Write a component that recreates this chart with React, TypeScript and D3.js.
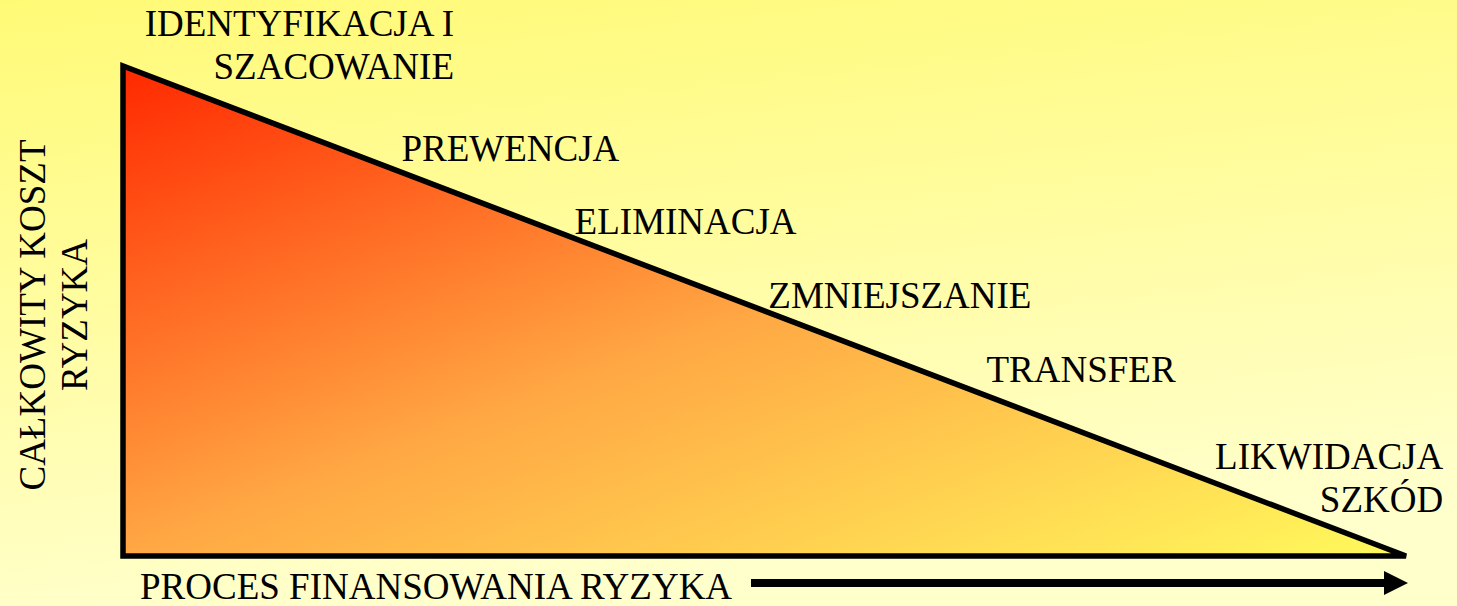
import React, { useEffect, useRef } from "react";
import * as d3 from "d3";

// stages of the risk financing process, in order
const stageLabels = [
    ["IDENTYFIKACJA I", "SZACOWANIE"],
    ["PREWENCJA"],
    ["ELIMINACJA"],
    ["ZMNIEJSZANIE"],
    ["TRANSFER"],
    ["LIKWIDACJA", "SZKÓD"],
];
// where each label sits: process progress (%) and remaining total cost (%)
const stageProcess = [25.8, 21.7, 35.2, 50.3, 67.3, 102.9];
const stageCost = [106.1, 80.6, 65.7, 50.6, 35.5, 17.8];

// the cost curve: total cost falls as the process goes on
const curveProcess = [0, 0, 100];
const curveCost = [0, 100, 0];

const xTitle = "PROCES FINANSOWANIA RYZYKA";
const yTitle = ["CAŁKOWITY KOSZT", "RYZYKA"];

const App = () => {
    const chartRef = useRef(null);

    useEffect(() => {
        const width = 1457, height = 606;
        const svg = d3.select(chartRef.current)
            .attr("width", width)
            .attr("height", height);

        svg.selectAll("*").remove();

        const x = d3.scaleLinear().domain([0, 100]).range([123, 1406]);
        const y = d3.scaleLinear().domain([0, 100]).range([556, 66]);

        const defs = svg.append("defs");
        const bg = defs.append("linearGradient")
            .attr("id", "bg")
            .attr("x1", 0).attr("y1", 0).attr("x2", 0.25).attr("y2", 1);
        bg.append("stop").attr("offset", 0).attr("stop-color", "#fffa76");
        bg.append("stop").attr("offset", 1).attr("stop-color", "#ffffcc");

        const fill = defs.append("linearGradient")
            .attr("id", "tri")
            .attr("x1", 0).attr("y1", 0).attr("x2", 1).attr("y2", 1);
        fill.append("stop").attr("offset", 0).attr("stop-color", "#ff2800");
        fill.append("stop").attr("offset", 0.5).attr("stop-color", "#ffa844");
        fill.append("stop").attr("offset", 1).attr("stop-color", "#fffa5c");

        svg.append("rect")
            .attr("width", width)
            .attr("height", height)
            .attr("fill", "url(#bg)");

        const pts = curveProcess.map((p, i) => [x(p), y(curveCost[i])]);
        svg.append("path")
            .attr("d", d3.line()(pts) + "Z")
            .attr("fill", "url(#tri)")
            .attr("stroke", "#000")
            .attr("stroke-width", 5.5);

        const font = "Liberation Serif, Tinos, DejaVu Serif, serif";
        const fontSize = 37, lineGap = 43;

        stageLabels.forEach((lines, i) => {
            const anchor = (i === 0 || i === stageLabels.length - 1) ? "end" : "start";
            const t = svg.append("text")
                .style("font-family", font)
                .style("font-size", fontSize + "px")
                .attr("fill", "#000")
                .attr("text-anchor", anchor);
            lines.forEach((line, j) => {
                t.append("tspan")
                    .attr("x", x(stageProcess[i]))
                    .attr("y", y(stageCost[i]) + j * lineGap)
                    .text(line);
            });
        });

        // x title with process arrow
        svg.append("text")
            .attr("x", 140)
            .attr("y", 599)
            .style("font-family", font)
            .style("font-size", fontSize + "px")
            .attr("fill", "#000")
            .text(xTitle);

        const ay = 583;
        svg.append("line")
            .attr("x1", 751).attr("x2", 1388)
            .attr("y1", ay).attr("y2", ay)
            .attr("stroke", "#000")
            .attr("stroke-width", 8);
        svg.append("path")
            .attr("d", d3.line()([[1384, ay - 12], [1408, ay], [1384, ay + 12]]) + "Z")
            .attr("fill", "#000");

        // y title, rotated
        const yt = svg.append("text")
            .attr("transform", "translate(0,315) rotate(-90)")
            .style("font-family", font)
            .style("font-size", fontSize + "px")
            .attr("fill", "#000")
            .attr("text-anchor", "middle");
        yTitle.forEach((line, j) => {
            yt.append("tspan")
                .attr("x", 0)
                .attr("y", 45 + j * 42)
                .text(line);
        });
    }, []);

    return <svg ref={chartRef} style={{ position: "absolute", left: 0, top: 0, display: "block" }}></svg>;
};

export default App;
